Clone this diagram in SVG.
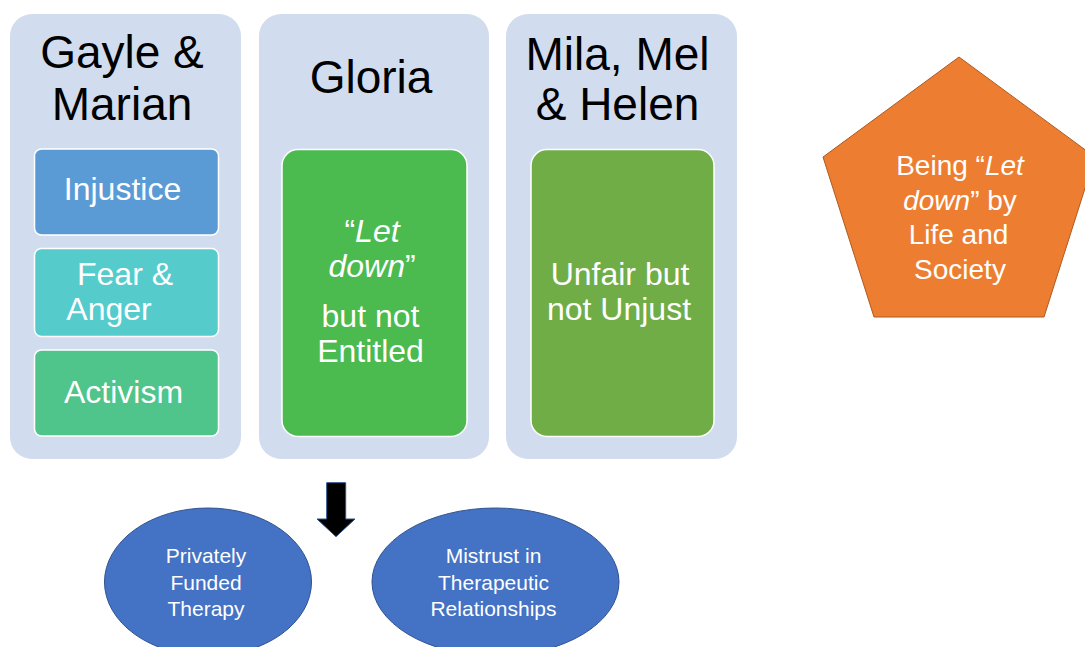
<svg xmlns="http://www.w3.org/2000/svg" width="1085" height="647" viewBox="0 0 1085 647">
  <style>
    .panel { fill: #D1DDEF; }
    .inner { stroke: #FFFFFF; stroke-width: 1.5; }
    .title { font-family: "Liberation Sans", Arial, sans-serif; font-size: 46px; fill: #000000; text-anchor: middle; }
    .label { font-family: "Liberation Sans", Arial, sans-serif; font-size: 32px; fill: #FFFFFF; text-anchor: middle; }
    .penta { font-family: "Liberation Sans", Arial, sans-serif; font-size: 28px; fill: #FFFFFF; text-anchor: middle; }
    .oval { fill: #4472C4; stroke: #2F528F; stroke-width: 1; }
    .ovaltext { font-family: "Liberation Sans", Arial, sans-serif; font-size: 21px; fill: #FFFFFF; text-anchor: middle; }
  </style>
  <rect width="1085" height="647" fill="#FFFFFF"/>

  <!-- Column: Gayle & Marian -->
  <g id="gayle-marian">
    <rect class="panel" x="10" y="14" width="231" height="445" rx="22"/>
    <text class="title" x="122" y="68">Gayle &amp;</text>
    <text class="title" x="122" y="120">Marian</text>
  </g>
  <g id="injustice">
    <rect class="inner" x="34.5" y="149" width="184" height="86" rx="7" fill="#5B9BD5"/>
    <text class="label" x="122.5" y="200">Injustice</text>
  </g>
  <g id="fear-anger">
    <rect class="inner" x="34.5" y="248.5" width="184" height="88" rx="7" fill="#55CBCC"/>
    <text class="label" x="125" y="285">Fear &amp;</text>
    <text class="label" x="109" y="320">Anger</text>
  </g>
  <g id="activism">
    <rect class="inner" x="34.5" y="350" width="184" height="86" rx="7" fill="#4FC48B"/>
    <text class="label" x="123.5" y="403">Activism</text>
  </g>

  <!-- Column: Gloria -->
  <g id="gloria">
    <rect class="panel" x="259" y="14" width="230" height="445" rx="22"/>
    <text class="title" x="371" y="93">Gloria</text>
  </g>
  <g id="let-down">
    <rect class="inner" x="282" y="149.5" width="185" height="287" rx="16" fill="#4BBA4F"/>
    <text class="label" x="372" y="242">“<tspan font-style="italic">Let</tspan></text>
    <text class="label" x="372" y="277"><tspan font-style="italic">down</tspan>”</text>
    <text class="label" x="370.5" y="327">but not</text>
    <text class="label" x="370.5" y="362">Entitled</text>
  </g>

  <!-- Column: Mila, Mel & Helen -->
  <g id="mila-mel-helen">
    <rect class="panel" x="506" y="14" width="231" height="445" rx="22"/>
    <text class="title" x="617.5" y="70">Mila, Mel</text>
    <text class="title" x="617.5" y="120">&amp; Helen</text>
  </g>
  <g id="unfair">
    <rect class="inner" x="531" y="149.5" width="183" height="287" rx="16" fill="#70AD47"/>
    <text class="label" x="620" y="285">Unfair but</text>
    <text class="label" x="619" y="320">not Unjust</text>
  </g>

  <!-- Pentagon -->
  <g id="let-down-by-life">
    <polygon points="959,57 1095,157 1044,317 874,317 823,157" fill="#ED7D31" stroke="#AE5A21" stroke-width="1"/>
    <text class="penta" x="960" y="175">Being “<tspan font-style="italic">Let</tspan></text>
    <text class="penta" x="960" y="210"><tspan font-style="italic">down</tspan>” by</text>
    <text class="penta" x="958.5" y="244">Life and</text>
    <text class="penta" x="960" y="279">Society</text>
  </g>

  <!-- Connectors -->
  <g id="connectors">
    <polygon points="326.7,482.7 345.7,482.7 345.7,519 355,519 336,536.7 317,519 326.7,519" fill="#000000" stroke="#2F528F" stroke-width="1"/>
  </g>

  <!-- Outcome ovals -->
  <g id="privately-funded">
    <ellipse class="oval" cx="208" cy="582" rx="103.5" ry="74"/>
    <text class="ovaltext" x="206" y="563">Privately</text>
    <text class="ovaltext" x="206" y="589.5">Funded</text>
    <text class="ovaltext" x="206" y="616">Therapy</text>
  </g>
  <g id="mistrust">
    <ellipse class="oval" cx="495.5" cy="582" rx="123.5" ry="74"/>
    <text class="ovaltext" x="493.5" y="563">Mistrust in</text>
    <text class="ovaltext" x="493.5" y="589.5">Therapeutic</text>
    <text class="ovaltext" x="493.5" y="616">Relationships</text>
  </g>
</svg>
